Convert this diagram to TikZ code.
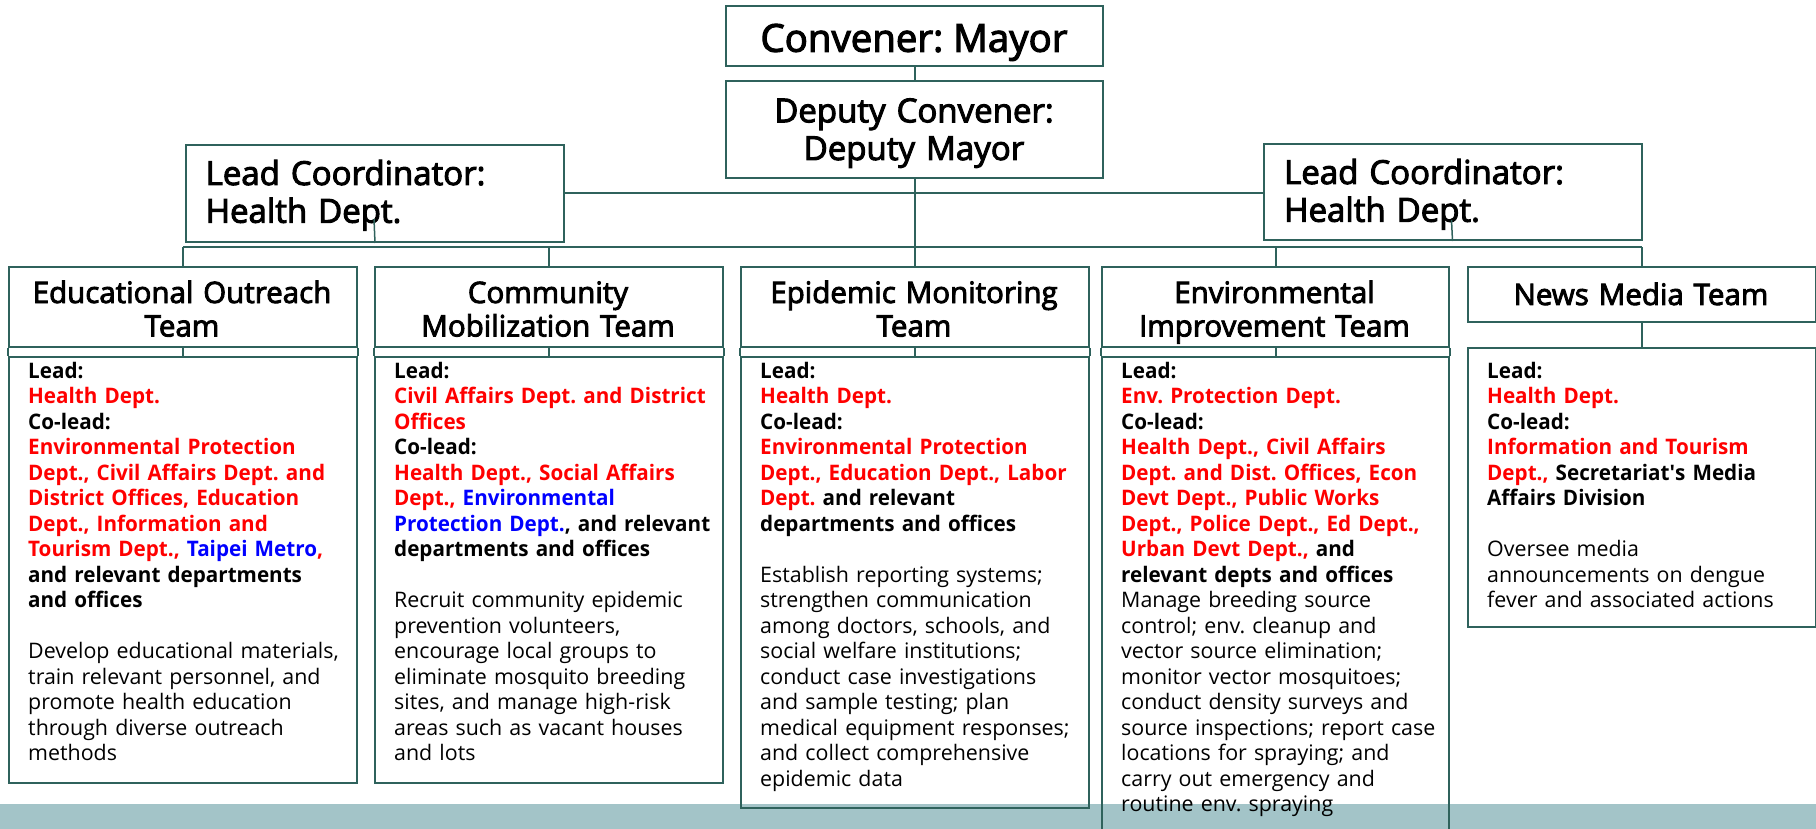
\documentclass[tikz,border=0pt]{standalone}
\usepackage{fontspec}
\setmainfont{Open Sans}[BoldFeatures={FakeStretch=0.965}]
\newfontfamily\hdfont{Open Sans}[FakeBold=3]
\newfontfamily\apfont{Open Sans}[BoldFeatures={FakeStretch=0.965}]
\definecolor{linec}{RGB}{47,98,92}
\definecolor{bandc}{RGB}{163,196,200}
\definecolor{rd}{RGB}{255,0,0}
\definecolor{bl}{RGB}{0,0,255}
\newcommand{\rtxt}[1]{{\color{rd}#1}}
\newcommand{\btxt}[1]{{\color{bl}#1}}
\frenchspacing
\begin{document}
\begin{tikzpicture}[x=1pt,y=-1pt,
  box/.style={draw=linec, line width=2pt, rectangle, inner sep=0pt, anchor=north west},
  conn/.style={draw=linec, line width=2pt},
  stub/.style={draw=linec, line width=1.5pt},
  convt/.style={inner sep=0pt, font={\hdfont\fontsize{38.4}{44}\selectfont}},
  bigt/.style={inner sep=0pt, text width=#1, font={\hdfont\fontsize{33}{37.7}\selectfont}},
  hdrt/.style={inner sep=0pt, text width=340pt, align=center, font={\hdfont\fontsize{29.5}{33.5}\selectfont}},
  bodyt/.style={inner sep=0pt, text width=338pt, align=left, font={\frenchspacing\fontsize{21.4}{25.5}\selectfont}}
]
\useasboundingbox (0,0) rectangle (1816,829);
% bottom band
\fill[bandc] (0,803.5) rectangle (1816,829);

% top boxes
\node[box, minimum width=377, minimum height=60] (conv) at (725,5) {};
\node[convt, anchor=base] (convT) at (914,51.7) {Convener: Mayor};
\node[box, minimum width=377, minimum height=97] (dep) at (725,80) {};
\node[bigt=360pt, align=center, anchor=base] (depT) at (914,122.3) {Deputy Convener:\\Deputy Mayor};

\node[box, minimum width=378, minimum height=97] (lcL) at (185,144) {};
\node[bigt=340pt, align=left, anchor=base west] (lcLT) at (205.5,185) {Lead Coordinator:\\Health Dept.};
\node[box, minimum width=378, minimum height=96] (lcR) at (1262.5,143) {};
\node[bigt=340pt, align=left, anchor=base west] (lcRT) at (1284,184) {Lead Coordinator:\\Health Dept.};

% team headers
\node[box, minimum width=348, minimum height=80] (edh) at (8,266) {};
\node[box, minimum width=348, minimum height=80] (cmh) at (374,266) {};
\node[box, minimum width=348, minimum height=80] (eph) at (740,266) {};
\node[box, minimum width=347, minimum height=80] (enh) at (1101,266) {};
\node[box, minimum width=348, minimum height=55] (nwh) at (1467,266) {};
\node[hdrt, anchor=base] (edhT) at (182,303) {Educational Outreach\\Team};
\node[hdrt, anchor=base] (cmhT) at (548,303) {Community\\Mobilization Team};
\node[hdrt, anchor=base] (ephT) at (914,303) {Epidemic Monitoring\\Team};
\node[hdrt, anchor=base] (enhT) at (1274.5,303) {Environmental\\Improvement Team};
\node[hdrt, anchor=base] (nwhT) at (1641,305) {News Media Team};

% team bodies
\node[box, minimum width=348, minimum height=426] (edb) at (8,356) {};
\node[box, minimum width=348, minimum height=426] (cmb) at (374,356) {};
\node[box, minimum width=348, minimum height=450.5] (epb) at (740,356) {};
\node[box, minimum width=347, minimum height=480] (enb) at (1101,356) {};
\node[box, minimum width=348, minimum height=279] (nwb) at (1467,347) {};

% connectors
\draw[conn] (conv.south) -- (conv.south |- dep.north);
\draw[conn] (dep.south) -- (dep.south |- eph.north);
\draw[conn] (lcL.east) -- (lcL.east -| lcR.west);
\coordinate (bus) at (0,247.5);
\draw[conn] (edh.north |- bus) -- (nwh.north |- bus);
\foreach \n in {edh,cmh,enh,nwh} \draw[conn] (\n.north |- bus) -- (\n.north);
\coordinate (lcLs) at (374,219);
\coordinate (lcRs) at (1451.5,220);
\draw[stub] (lcLs) -- (lcL.south);
\draw[stub] (lcRs) -- (lcR.south);
\foreach \h/\b in {edh/edb,cmh/cmb,eph/epb,enh/enb}{
  \draw[conn] (\h.south) -- (\b.north);
  \draw[conn] (\h.south west) -- (\b.north west);
  \draw[conn] (\h.south east) -- (\b.north east);
}
\draw[conn] (nwh.south) -- (nwb.north);

% body texts
\node[bodyt, anchor=base west] (edT) at (28,378) {{\bfseries Lead:\\
\rtxt{Health Dept.}\\
Co-lead:\\
\rtxt{Environmental Protection}\\
\rtxt{Dept., Civil Affairs Dept. and}\\
\rtxt{District Offices, Education}\\
\rtxt{Dept., Information and}\\
\rtxt{Tourism Dept., }\btxt{Taipei Metro}\rtxt{,}\\
and relevant departments\\
and offices}\\[25.5pt]
Develop educational materials,\\
train relevant personnel, and\\
promote health education\\
through diverse outreach\\
methods};

\node[bodyt, anchor=base west] (cmT) at (394,378) {{\bfseries Lead:\\
\rtxt{Civil Affairs Dept. and District}\\
\rtxt{Offices}\\
Co-lead:\\
\rtxt{Health Dept., Social Affairs}\\
\rtxt{Dept., }\btxt{Environmental}\\
\btxt{Protection Dept.}, and relevant\\
departments and offices}\\[25.5pt]
Recruit community epidemic\\
prevention volunteers,\\
encourage local groups to\\
eliminate mosquito breeding\\
sites, and manage high-risk\\
areas such as vacant houses\\
and lots};

\node[bodyt, anchor=base west] (epT) at (760,378) {{\bfseries Lead:\\
\rtxt{Health Dept.}\\
Co-lead:\\
\rtxt{Environmental Protection}\\
\rtxt{Dept., Education Dept., Labor}\\
\rtxt{Dept.} and relevant\\
departments and offices}\\[25.5pt]
Establish reporting systems;\\
strengthen communication\\
among doctors, schools, and\\
social welfare institutions;\\
conduct case investigations\\
and sample testing; plan\\
medical equipment responses;\\
and collect comprehensive\\
epidemic data};

\node[bodyt, anchor=base west] (enT) at (1121,378) {{\bfseries Lead:\\
\rtxt{Env. Protection Dept.}\\
Co-lead:\\
\rtxt{Health Dept., Civil Affairs}\\
\rtxt{Dept. and Dist. Offices, Econ}\\
\rtxt{Devt Dept., Public Works}\\
\rtxt{Dept., Police Dept., Ed Dept.,}\\
\rtxt{Urban Devt Dept.,} and\\
relevant depts and offices}\\
Manage breeding source\\
control; env. cleanup and\\
vector source elimination;\\
monitor vector mosquitoes;\\
conduct density surveys and\\
source inspections; report case\\
locations for spraying; and\\
carry out emergency and\\
routine env. spraying};

\node[bodyt, anchor=base west] (nwT) at (1487,378) {{\bfseries Lead:\\
\rtxt{Health Dept.}\\
Co-lead:\\
\rtxt{Information and Tourism}\\
\rtxt{Dept.,} Secretariat{\apfont\bfseries '}s Media\\
Affairs Division}\\[25.5pt]
Oversee media\\
announcements on dengue\\
fever and associated actions};
\end{tikzpicture}
\end{document}
